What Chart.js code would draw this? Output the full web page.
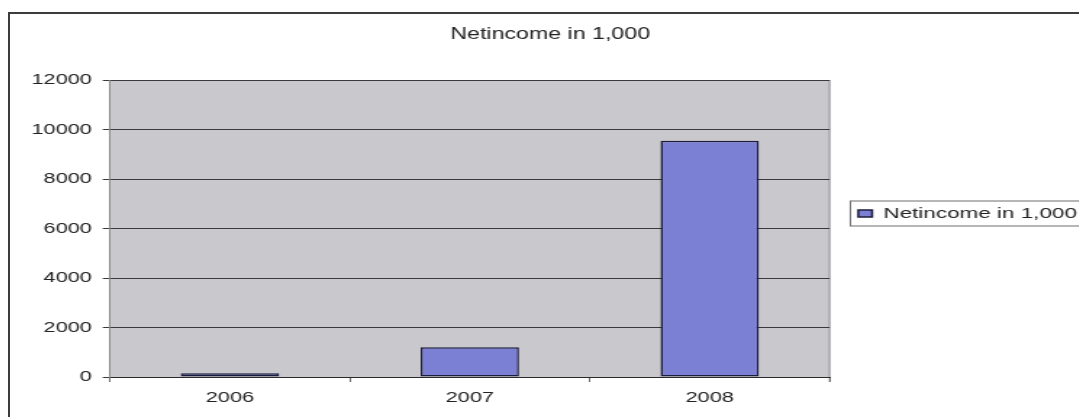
<!DOCTYPE html>
<html>
<head>
<meta charset="utf-8">
<title>Netincome in 1,000</title>
<script src="https://cdn.jsdelivr.net/npm/chart.js@4.4.0/dist/chart.umd.min.js"></script>
<style>
html, body { margin: 0; padding: 0; overflow: hidden; background: #fff; width: 1079px; height: 417px; }
/* outer chart frame, only its top and left edges fall inside the window */
#frame { position: absolute; left: 8px; top: 12px; width: 1200px; height: 500px; border-top: 2px solid #3c3c3c; border-left: 2px solid #3c3c3c; }
#netChart { position: absolute; left: 9px; top: 13px; }
</style>
</head>
<body>
<div id="frame"></div>
<!-- drawn narrow and stretched sideways for the wide lettering; inline size so Chart.js keeps it -->
<canvas id="netChart" width="752" height="404" style="width: 1090px; height: 404px;"></canvas>
<script>
const years = ['2006', '2007', '2008'];
const netIncome = [150, 1200, 9550];
const seriesLabel = 'Netincome in 1,000';
const yMin = 0;
const yMax = 12000;
const yStep = 2000;

const fontFamily = "'Liberation Sans', Arial, Helvetica, sans-serif";
const textColor = '#222222';

// gray plot background plus the thin border on its right side
const plotBackground = {
    id: 'plotBackground',
    beforeDraw(chart) {
        const {ctx, chartArea: a} = chart;
        ctx.save();
        ctx.fillStyle = '#c9c8cd';
        ctx.fillRect(a.left, a.top, a.right - a.left, a.bottom - a.top);
        ctx.strokeStyle = '#8c8c8c';
        ctx.lineWidth = 1;
        ctx.beginPath();
        ctx.moveTo(a.right, a.top);
        ctx.lineTo(a.right, a.bottom + 5);
        ctx.stroke();
        ctx.restore();
    }
};

// box round the legend entry
const legendFrame = {
    id: 'legendFrame',
    afterDraw(chart) {
        const legend = chart.legend;
        if (!legend || !legend.legendHitBoxes.length) return;
        const hb = legend.legendHitBoxes[0];
        const cy = hb.top + hb.height / 2;
        const ctx = chart.ctx;
        ctx.save();
        ctx.strokeStyle = '#6e6e6e';
        ctx.lineWidth = 1;
        ctx.strokeRect(hb.left - 5.5, cy - 12.5, hb.width + 14, 25);
        ctx.restore();
    }
};

const ctx = document.getElementById('netChart').getContext('2d');
const netChart = new Chart(ctx, {
    type: 'bar',
    data: {
        labels: years,
        datasets: [{
            label: seriesLabel,
            data: netIncome,
            backgroundColor: '#7b80d5',
            borderColor: '#1c1c3c',
            borderWidth: 1.5,
            borderSkipped: false,
            barPercentage: 0.41,
            categoryPercentage: 1
        }]
    },
    options: {
        responsive: false,
        animation: false,
        layout: {
            padding: { left: 0, right: 5.25, top: 0, bottom: 3 }
        },
        plugins: {
            title: {
                display: true,
                text: seriesLabel,
                color: textColor,
                font: { family: fontFamily, size: 16, weight: 'normal' },
                padding: { top: 11.5, bottom: 36.3 }
            },
            legend: {
                position: 'right',
                maxWidth: 220,
                labels: {
                    color: textColor,
                    font: { family: fontFamily, size: 15.5 },
                    boxWidth: 9.5,
                    boxHeight: 7,
                    padding: 19.8
                }
            },
            tooltip: { enabled: false }
        },
        scales: {
            x: {
                offset: true,
                grid: {
                    drawOnChartArea: false,
                    drawTicks: true,
                    tickLength: 5,
                    color: '#6a6a6a'
                },
                border: { color: '#2a2a2a', width: 1 },
                ticks: {
                    color: textColor,
                    font: { family: fontFamily, size: 15 },
                    padding: 7,
                    maxRotation: 0
                }
            },
            y: {
                min: yMin,
                max: yMax,
                grid: {
                    color: '#3a3a3a',
                    lineWidth: 1,
                    tickLength: 5
                },
                border: { color: '#8a8a8a', width: 1 },
                ticks: {
                    stepSize: yStep,
                    color: textColor,
                    font: { family: fontFamily, size: 15 },
                    padding: 7.5,
                    callback: function(value) { return String(value); }
                },
                afterFit: function(scale) {
                    scale.width = 69.7;
                }
            }
        }
    },
    plugins: [plotBackground, legendFrame]
});
</script>
</body>
</html>
